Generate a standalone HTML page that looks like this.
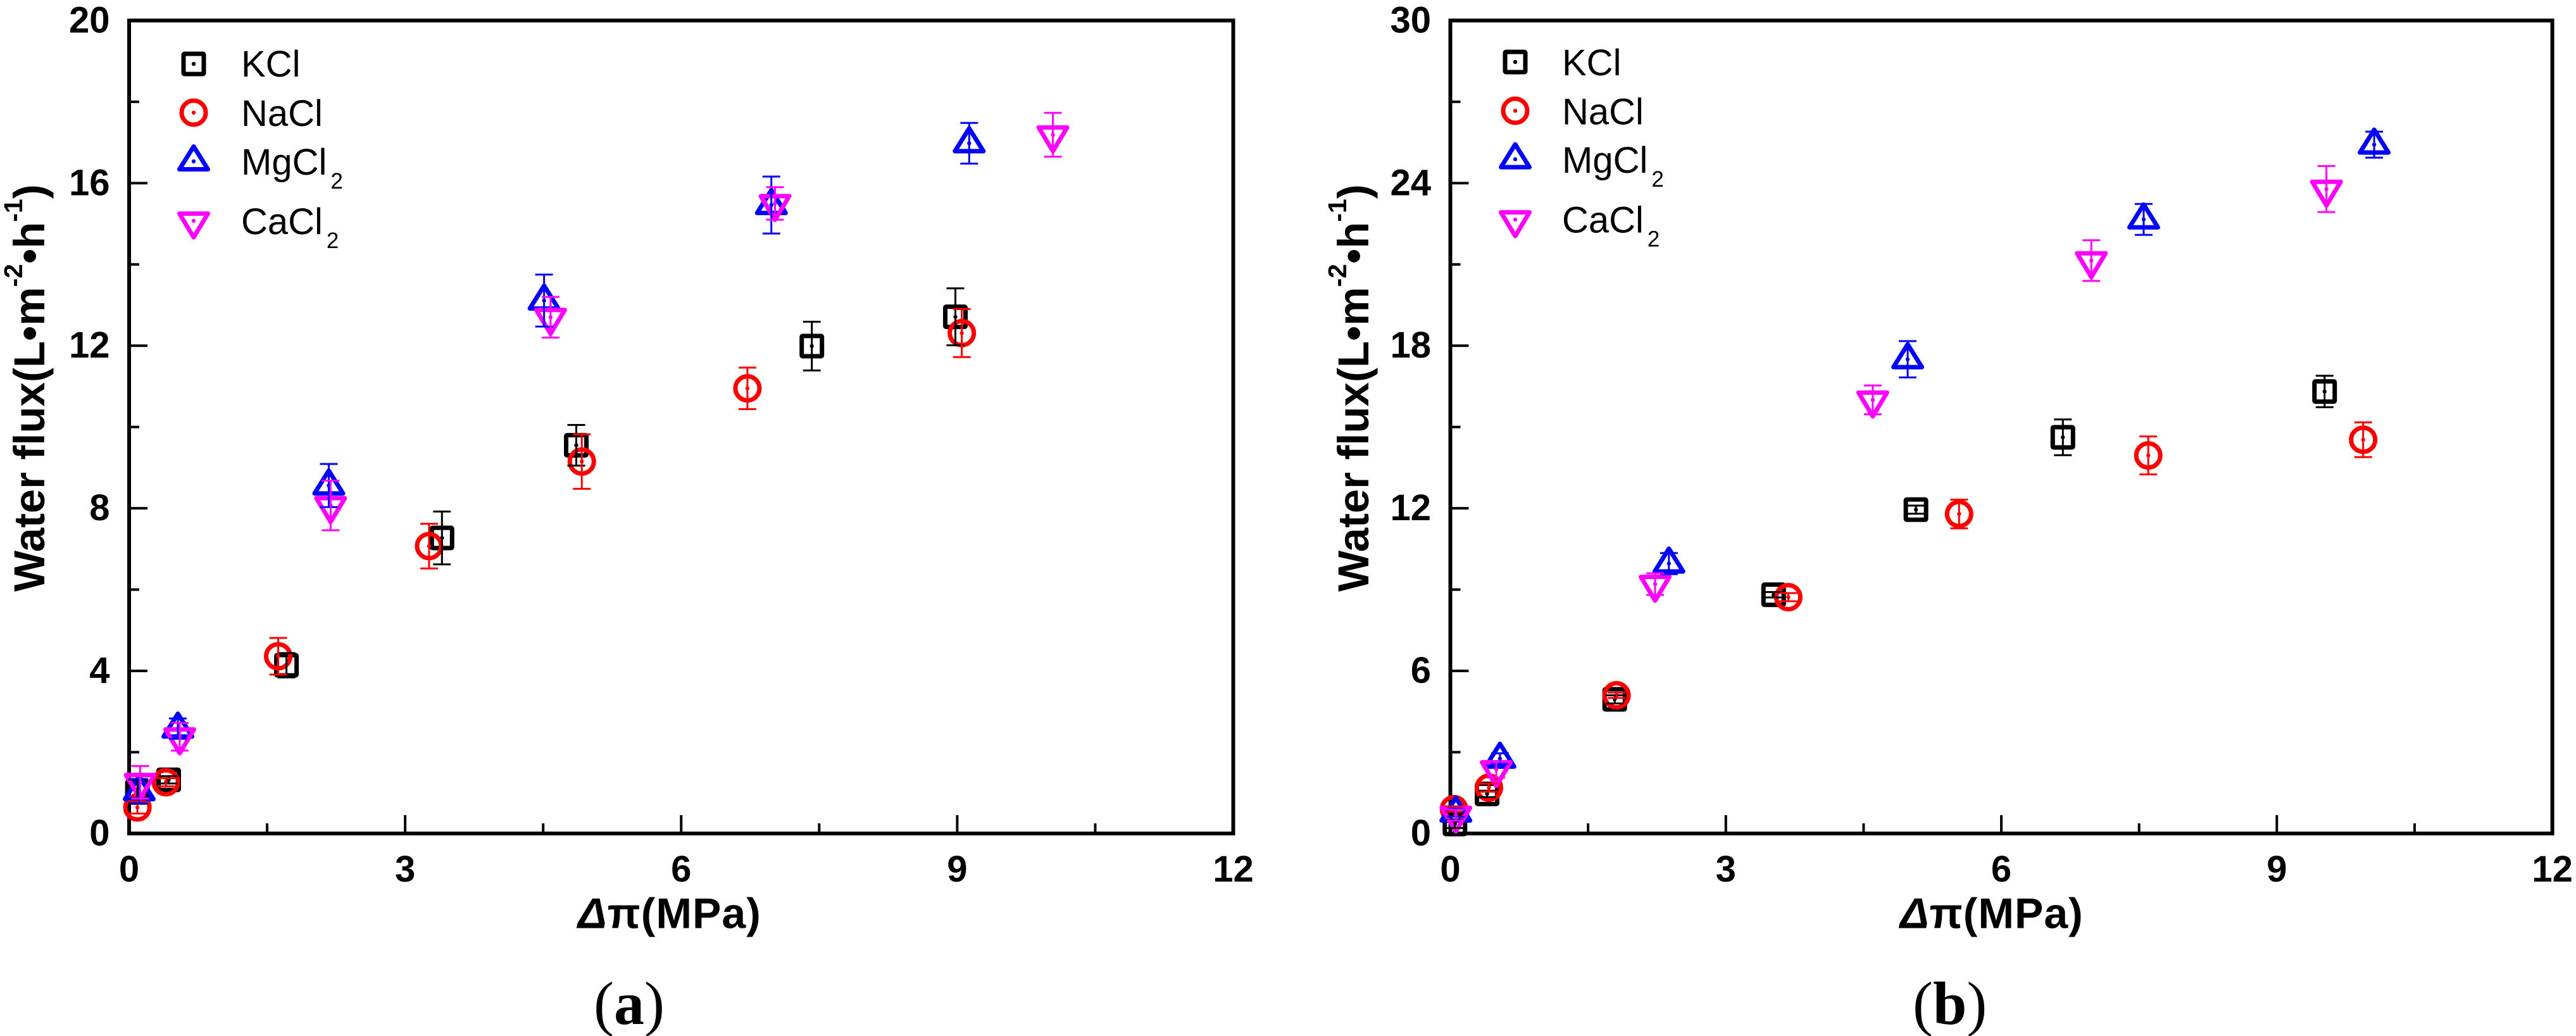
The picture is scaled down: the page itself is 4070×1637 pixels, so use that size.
<!DOCTYPE html>
<html lang="en">
<head>
<meta charset="utf-8">
<title>Water flux versus osmotic pressure difference</title>
<style>
html,body{margin:0;padding:0;background:#fff;width:4070px;height:1637px;overflow:hidden}
svg{display:block}
text{font-family:"Liberation Sans",Arial,sans-serif;fill:#000}
</style>
</head>
<body>
<svg id="figure" xmlns="http://www.w3.org/2000/svg" width="4070" height="1637" viewBox="0 0 4070 1637"></svg>
<script>
// Shared axis data
const xTickValues = [0, 3, 6, 9, 12];
const xMinorValues = [1.5, 4.5, 7.5, 10.5];
const seriesNames = ['KCl', 'NaCl', 'MgCl', 'CaCl'];

// Panel (a) axis data
const yTickValuesA = [0, 4, 8, 12, 16, 20];
const yMinorValuesA = [2, 6, 10, 14, 18];

// Panel (a) series values
const kclXA = [0.09, 0.43, 1.71, 3.40, 4.86, 7.42, 8.98];
const kclYA = [1.03, 1.32, 4.14, 7.27, 9.55, 11.99, 12.71];
const kclErrA = [0.30, 0.09, 0.30, 0.65, 0.50, 0.60, 0.70];
const naclXA = [0.09, 0.40, 1.62, 3.26, 4.92, 6.72, 9.05];
const naclYA = [0.64, 1.26, 4.36, 7.07, 9.15, 10.95, 12.31];
const naclErrA = [0.15, 0.10, 0.45, 0.55, 0.67, 0.51, 0.59];
const mgclXA = [0.11, 0.53, 2.17, 4.51, 6.98, 9.13];
const mgclYA = [1.04, 2.58, 8.56, 13.11, 15.46, 16.98];
const mgclErrA = [0.30, 0.25, 0.53, 0.64, 0.70, 0.50];
const caclXA = [0.12, 0.55, 2.19, 4.58, 7.02, 10.04];
const caclYA = [1.26, 2.38, 8.07, 12.70, 15.50, 17.19];
const caclErrA = [0.40, 0.34, 0.61, 0.50, 0.40, 0.54];

// Panel (b) axis data
const yTickValuesB = [0, 6, 12, 18, 24, 30];
const yMinorValuesB = [3, 9, 15, 21, 27];

// Panel (b) series values
const kclXB = [0.05, 0.40, 1.79, 3.52, 5.07, 6.67, 9.52];
const kclYB = [0.35, 1.46, 4.95, 8.81, 11.95, 14.62, 16.31];
const kclErrB = [0.15, 0.12, 0.15, 0.10, 0.15, 0.66, 0.58];
const naclXB = [0.04, 0.42, 1.81, 3.68, 5.54, 7.60, 9.94];
const naclYB = [0.90, 1.69, 5.10, 8.72, 11.79, 13.95, 14.53];
const naclErrB = [0.10, 0.15, 0.10, 0.15, 0.53, 0.70, 0.64];
const mgclXB = [0.06, 0.54, 2.38, 4.98, 7.55, 10.06];
const mgclYB = [0.77, 2.76, 9.96, 17.50, 22.66, 25.42];
const mgclErrB = [0.15, 0.20, 0.39, 0.67, 0.57, 0.48];
const caclXB = [0.06, 0.50, 2.23, 4.60, 6.98, 9.54];
const caclYB = [0.68, 2.36, 9.20, 16.00, 21.14, 23.78];
const caclErrB = [0.20, 0.30, 0.40, 0.53, 0.75, 0.85];

const NS = 'http://www.w3.org/2000/svg';
const root = document.getElementById('figure');
const COLORS = {square: '#000000', circle: '#ff0000', up: '#0000ff', down: '#ff00ff'};

function make(tag, attrs, parent, content) {
  const el = document.createElementNS(NS, tag);
  for (const k in attrs) el.setAttribute(k, attrs[k]);
  if (content !== undefined) el.textContent = content;
  parent.appendChild(el);
  return el;
}

function drawSymbol(parent, kind, cx, cy) {
  const c = COLORS[kind];
  if (kind === 'square') {
    make('rect', {x: cx - 16, y: cy - 16, width: 32, height: 32, rx: 1.5, fill: 'none', stroke: c, 'stroke-width': 7}, parent);
  } else if (kind === 'circle') {
    make('circle', {cx: cx, cy: cy, r: 19, fill: 'none', stroke: c, 'stroke-width': 7}, parent);
  } else if (kind === 'up') {
    make('path', {d: `M${cx} ${cy - 23.5}L${cx + 22.5} ${cy + 12.5}L${cx - 22.5} ${cy + 12.5}Z`, fill: 'none', stroke: c, 'stroke-width': 7, 'stroke-linejoin': 'round'}, parent);
  } else {
    make('path', {d: `M${cx} ${cy + 26}L${cx + 22.5} ${cy - 11.5}L${cx - 22.5} ${cy - 11.5}Z`, fill: 'none', stroke: c, 'stroke-width': 7, 'stroke-linejoin': 'round'}, parent);
  }
  make('circle', {cx: cx, cy: cy, r: 3.2, fill: c}, parent);
}

function drawPanel(p) {
  const g = make('g', {}, root);
  
  

  const sx = v => p.left + (v / p.xMax) * (p.right - p.left);
  const sy = v => p.bottom - (v / p.yMax) * (p.bottom - p.top);

  // Frame
  const frame = make('rect', {x: p.left, y: p.top, width: p.right - p.left, height: p.bottom - p.top, fill: 'none', stroke: '#000', 'stroke-width': 6}, g);
  
  

  // X ticks
  xTickValues.forEach(v => {
    if (v > 0 && v < p.xMax) {
      const t = make('line', {x1: sx(v), x2: sx(v), y1: p.bottom, y2: p.bottom - 29, stroke: '#000', 'stroke-width': 4}, g);
      
      
    }
    const lab = make('text', {x: sx(v), y: 1393, 'text-anchor': 'middle', 'font-size': 58, 'font-weight': 'bold'}, g, String(v));
    
    
  });
  xMinorValues.forEach(v => {
    const t = make('line', {x1: sx(v), x2: sx(v), y1: p.bottom, y2: p.bottom - 16, stroke: '#000', 'stroke-width': 4}, g);
    
    
  });

  // Y ticks
  p.yTicks.forEach(v => {
    if (v > 0 && v < p.yMax) {
      const t = make('line', {x1: p.left, x2: p.left + 29, y1: sy(v), y2: sy(v), stroke: '#000', 'stroke-width': 4}, g);
      
      
    }
    const lab = make('text', {x: p.left - 30.5, y: sy(v) + 19, 'text-anchor': 'end', 'font-size': 58, 'font-weight': 'bold'}, g, String(v));
    
    
  });
  p.yMinor.forEach(v => {
    const t = make('line', {x1: p.left, x2: p.left + 16, y1: sy(v), y2: sy(v), stroke: '#000', 'stroke-width': 4}, g);
    
    
  });

  // Y axis title
  const yTitle = make('text', {transform: `translate(${p.yTitleX} 935) rotate(-90)`, x: 0, y: 0, 'font-size': 69, 'font-weight': 'bold'}, g);
  
  
  make('tspan', {}, yTitle, 'Water flux(L•m');
  make('tspan', {dy: -35, 'font-size': 41}, yTitle, '-2');
  make('tspan', {dy: 35}, yTitle, '•h');
  make('tspan', {dy: -35, 'font-size': 41}, yTitle, '-1');
  make('tspan', {dy: 35}, yTitle, ')');

  // X axis title
  const xTitle = make('text', {x: p.xTitleX, y: 1466.5, 'font-size': 68, 'font-weight': 'bold', 'letter-spacing': 1}, g);
  
  
  make('tspan', {'font-style': 'italic'}, xTitle, 'Δ');
  make('tspan', {}, xTitle, 'π(MPa)');

  // Caption
  const cap = make('text', {x: p.captionX, y: 1618, 'font-size': 96}, g);
  
  
  cap.style.fontFamily = '"Liberation Serif","Times New Roman",serif';
  make('tspan', {}, cap, '(');
  make('tspan', {'font-weight': 'bold'}, cap, p.id);
  make('tspan', {}, cap, ')');

  // Legend
  p.legend.forEach((row, i) => {
    const lg = make('g', {}, g);
    
    
    drawSymbol(lg, p.series[i].kind, p.legendSymbolX, row.sym);
    const tx = make('text', {x: p.legendTextX, y: row.base, 'font-size': 58}, lg);
    make('tspan', {}, tx, seriesNames[i]);
    if (i >= 2) {
      make('tspan', {dx: 6, dy: 22, 'font-size': 35}, tx, '2');
    }
  });

  // Symbols first, error bars above them
  p.series.forEach(s => {
    const sg = make('g', {}, g);
    
    
    s.x.forEach((xv, i) => {
      const pt = make('g', {}, sg);
      
      
      drawSymbol(pt, s.kind, sx(xv), sy(s.y[i]));
    });
  });
  p.series.forEach(s => {
    const eg = make('g', {stroke: COLORS[s.kind], 'stroke-width': 3, fill: 'none'}, g);
    
    
    s.x.forEach((xv, i) => {
      const cx = sx(xv), hi = sy(s.y[i] + s.e[i]), lo = sy(s.y[i] - s.e[i]);
      const bar = make('path', {d: `M${cx} ${hi}V${lo}M${cx - 14} ${hi}H${cx + 14}M${cx - 14} ${lo}H${cx + 14}`}, eg);
      
      
    });
  });
}

drawPanel({
  id: 'a', left: 204, right: 1948.5, top: 32.4, bottom: 1317, xMax: 12, yMax: 20,
  yTicks: yTickValuesA, yMinor: yMinorValuesA, yTitleX: 70, xTitleX: 913, captionX: 938,
  legendSymbolX: 306, legendTextX: 381,
  legend: [{sym: 101, base: 121}, {sym: 178, base: 199}, {sym: 255, base: 276}, {sym: 349, base: 370}],
  series: [
    {kind: 'square', x: kclXA, y: kclYA, e: kclErrA},
    {kind: 'circle', x: naclXA, y: naclYA, e: naclErrA},
    {kind: 'up', x: mgclXA, y: mgclYA, e: mgclErrA},
    {kind: 'down', x: caclXA, y: caclYA, e: caclErrA}
  ]
});

drawPanel({
  id: 'b', left: 2291.5, right: 4032.6, top: 32.4, bottom: 1317, xMax: 12, yMax: 30,
  yTicks: yTickValuesB, yMinor: yMinorValuesB, yTitleX: 2162, xTitleX: 3002, captionX: 3022,
  legendSymbolX: 2394, legendTextX: 2468,
  legend: [{sym: 98, base: 119}, {sym: 175, base: 196.5}, {sym: 251.6, base: 273}, {sym: 347, base: 367.7}],
  series: [
    {kind: 'square', x: kclXB, y: kclYB, e: kclErrB},
    {kind: 'circle', x: naclXB, y: naclYB, e: naclErrB},
    {kind: 'up', x: mgclXB, y: mgclYB, e: mgclErrB},
    {kind: 'down', x: caclXB, y: caclYB, e: caclErrB}
  ]
});
</script>
</body>
</html>
